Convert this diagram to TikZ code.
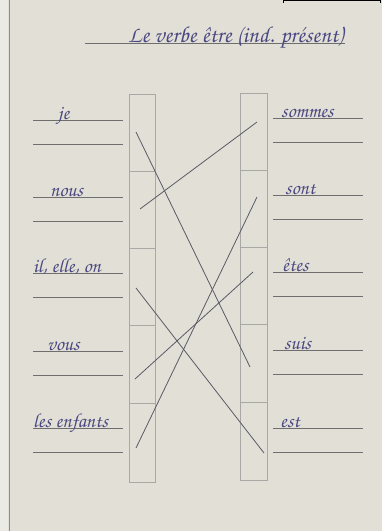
\documentclass[tikz,border=0pt]{standalone}
\usepackage[T1]{fontenc}
\begin{document}
\begin{tikzpicture}[x=1pt,y=-1pt,
  ink/.style={text=inkc,inner sep=0pt,anchor=base west,font=\fontencoding{T1}\fontfamily{pzc}\fontsize{20}{24}\selectfont},
  wline/.style={draw=linec,line width=1pt},
  boxc/.style={draw=boxcol,line width=0.7pt},
  match/.style={draw=pencil,line width=0.8pt}]
\definecolor{paper}{HTML}{E1DFD6}
\definecolor{inkc}{HTML}{4A4880}
\definecolor{linec}{HTML}{6E6E6E}
\definecolor{boxcol}{HTML}{A8A8A4}
\definecolor{pencil}{HTML}{5A5A66}
\useasboundingbox (0,0) rectangle (382,531);
\fill[paper] (0,0) rectangle (382,531);
\fill[white,opacity=0.35] (0,0) rectangle (8,531);
\draw[black!45,line width=0.8pt] (9,0) -- (9,531);
\draw[black,line width=1pt] (283,0.5) -- (380,0.5);
\draw[black,line width=1pt] (283,0) -- (283,3) (380,0) -- (380,3);
% title
\draw[wline] (85,43) -- (345,43);
\node[ink,font=\fontencoding{T1}\fontfamily{pzc}\fontsize{23}{26}\selectfont] (title) at (128,42) {Le verbe \^etre (ind. pr\'esent)};
% boxes
\draw[boxc] (129,94) rectangle (155,482);
\foreach \y in {171,248,325,403} \draw[boxc] (129,\y) -- (155,\y);
\draw[boxc] (240,93) rectangle (267,480);
\foreach \y in {170,247,324,402} \draw[boxc] (240,\y) -- (267,\y);
% writing lines
\foreach \y in {120,197,273,351,428} {\draw[wline] (33,\y) -- (123,\y); \draw[wline] (33,\y+24) -- (123,\y+24);}
\foreach \y in {118,195,272,350,428} {\draw[wline] (273,\y) -- (363,\y); \draw[wline] (273,\y+24) -- (363,\y+24);}
% labels
\node[ink] (je) at (58,119) {je};
\node[ink] (nous) at (50,196) {nous};
\node[ink] (il) at (33,272) {il, elle, on};
\node[ink] (vous) at (47,350) {vous};
\node[ink] (les) at (33,427) {les enfants};
\node[ink] (sommes) at (281,117) {sommes};
\node[ink] (sont) at (285,194) {sont};
\node[ink] (etes) at (282,271) {\^etes};
\node[ink] (suis) at (284,349) {suis};
\node[ink] (est) at (280,427) {est};
% matching endpoints
\coordinate (a1) at (136,132); \coordinate (b1) at (250,367);
\coordinate (a2) at (140,209); \coordinate (b2) at (257,122);
\coordinate (a3) at (136,288); \coordinate (b3) at (264,453);
\coordinate (a4) at (135,379); \coordinate (b4) at (253,272);
\coordinate (a5) at (136,448); \coordinate (b5) at (257,197);
\draw[match] (a1) -- (b1);
\draw[match] (a2) -- (b2);
\draw[match] (a3) -- (b3);
\draw[match] (a4) -- (b4);
\draw[match] (a5) -- (b5);
\end{tikzpicture}
\end{document}
